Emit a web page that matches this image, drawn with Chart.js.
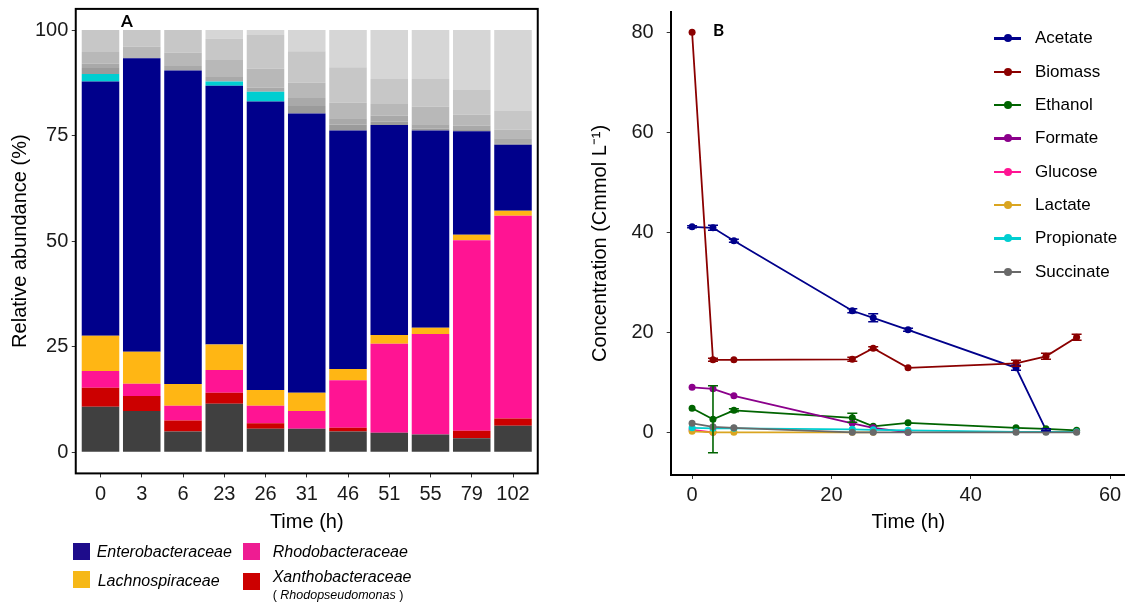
<!DOCTYPE html>
<html><head><meta charset="utf-8">
<script src="https://cdn.jsdelivr.net/npm/chart.js@4.4.1/dist/chart.umd.min.js"></script>
<style>
html,body{margin:0;padding:0;background:#fff;width:1125px;height:603px;overflow:hidden;position:relative;font-family:"Liberation Sans",Arial,sans-serif;color:#000;}
#ca{position:absolute;left:0;top:0;}
#cb{position:absolute;left:560px;top:0;}
.plab{position:absolute;font-family:Lato,"Liberation Sans",sans-serif;font-weight:bold;font-size:17px;line-height:17px;}
.sw{position:absolute;width:17px;height:17px;}
.lt{position:absolute;font-size:16px;line-height:20px;font-style:italic;white-space:nowrap;}
.st{position:absolute;font-size:12.5px;line-height:14px;white-space:nowrap;}
.lb{position:absolute;height:20px;width:140px;}
.lb .ln{position:absolute;left:0;top:9px;width:27px;height:2.5px;}
.lb .dt{position:absolute;left:9.5px;top:6.2px;width:8px;height:8px;border-radius:50%;}
.lb .tx{position:absolute;left:41px;top:0;font-size:17px;line-height:20px;white-space:nowrap;}
</style></head>
<body>
<canvas id="ca" width="560" height="603"></canvas>
<canvas id="cb" width="590" height="603"></canvas>
<div class="plab" style="left:121px;top:12px;">A</div>
<div class="plab" style="left:713px;top:20.5px;">B</div>
<div id="legA"></div>
<div id="legB"></div>
<script>
// ---------- Panel A data ----------
const timeLabels = ['0','3','6','23','26','31','46','51','55','79','102'];
const yTicksA = [0, 25, 50, 75, 100];
const other   = [10.8, 9.8, 4.9, 11.5, 5.6, 5.6, 4.9, 4.6, 4.2, 3.3, 6.3];
const xantho  = [4.5, 3.5, 2.6, 2.6, 1.3, 0, 0.9, 0, 0, 1.8, 1.7];
const rhodo   = [3.95, 2.95, 3.5, 5.4, 4.1, 4.2, 11.25, 21.1, 23.8, 45.1, 48.0];
const lachno  = [8.35, 7.55, 5.2, 6.0, 3.75, 4.3, 2.65, 2.1, 1.5, 1.3, 1.2];
const entero  = [60.2, 69.5, 74.2, 61.3, 68.35, 66.1, 56.5, 49.7, 46.7, 24.5, 15.6];
const cyanFam = [1.8, 0, 0, 1.0, 2.3, 0, 0, 0, 0, 0, 0];
const gray1   = [1.4, 0, 0, 0, 0, 1.8, 1.4, 0.8, 0.5, 0.3, 0.4];
const gray2   = [1.0, 0, 1.1, 1.1, 0.9, 1.9, 1.5, 1.4, 1.0, 1.0, 1.15];
const gray3   = [2.8, 2.75, 3.2, 4.0, 4.6, 3.7, 3.7, 2.8, 4.1, 2.7, 2.05];
const gray4   = [5.2, 3.95, 5.3, 5.1, 7.9, 7.4, 8.4, 5.9, 6.6, 5.8, 4.4];
const gray5   = [0, 0, 0, 2.0, 1.2, 5.0, 8.8, 11.6, 11.6, 14.2, 19.2];

// ---------- Panel B data ----------
const timesB = [0, 3, 6, 23, 26, 31, 46.5, 50.8, 55.2];
const xTicksB = [0, 20, 40, 60];
const yTicksB = [0, 20, 40, 60, 80];
const acetate    = [41.1, 40.9, 38.3, 24.3, 22.9, 20.5, 12.9, 0.5];
const acetateErr = [0.2, 0.5, 0.3, 0.4, 0.8, 0.3, 0.5, 0.2];
const biomass    = [80, 14.5, 14.5, 14.6, 16.8, 12.9, 13.8, 15.2, 19.0];
const biomassErr = [0, 0.3, 0, 0.4, 0.3, 0, 0.6, 0.6, 0.6];
const ethanol    = [4.8, 2.6, 4.4, 2.9, 1.2, 1.9, 0.9, 0.7, 0.4];
const ethanolErr = [0, 6.7, 0.3, 0.9, 0, 0, 0, 0, 0];
const formate    = [9.0, 8.7, 7.3, 1.8, 0.9, 0];
const glucose    = [0.5, 0];
const lactate    = [0.2, 0, 0, 0, 0];
const propionate = [0.9, 0.8, 0.8, 0.6, 0.5, 0.4, 0.1, 0.1, 0.1];
const succinate  = [1.8, 1.1, 0.9, 0, 0, 0, 0, 0, 0];

const FONT = 'Liberation Sans';
const noPad = s => { s.paddingTop = 0; s.paddingBottom = 0; s.paddingLeft = 0; s.paddingRight = 0; };

// ---------- Panel A chart ----------
const segA = [
  {label:'Other', data: other, color:'#404040'},
  {label:'Xanthobacteraceae', data: xantho, color:'#cc0000'},
  {label:'Rhodobacteraceae', data: rhodo, color:'#ff1493'},
  {label:'Lachnospiraceae', data: lachno, color:'#ffb614'},
  {label:'Enterobacteraceae', data: entero, color:'#00008b'},
  {label:'c1', data: cyanFam, color:'#00ced1'},
  {label:'g1', data: gray1, color:'#9b9b9b'},
  {label:'g2', data: gray2, color:'#a9a9a9'},
  {label:'g3', data: gray3, color:'#b8b8b8'},
  {label:'g4', data: gray4, color:'#c7c7c7'},
  {label:'g5', data: gray5, color:'#d6d6d6'}
];
const frameA = {id:'frameA', afterDraw(c){const a=c.chartArea,ctx=c.ctx;ctx.save();ctx.strokeStyle='#000';ctx.lineWidth=2;ctx.strokeRect(a.left,a.top,a.right-a.left,a.bottom-a.top);ctx.restore();}};
new Chart(document.getElementById('ca'), {
  type:'bar',
  data:{datasets: segA.map(s=>({label:s.label, data:s.data.map((v,i)=>({x:i,y:v})), backgroundColor:s.color, borderWidth:0, barPercentage:0.91, categoryPercentage:1}))},
  options:{
    responsive:false, animation:false, events:[],
    layout:{padding:{left:0,right:22.25,top:8.9,bottom:0}},
    plugins:{legend:{display:false}, tooltip:{enabled:false}},
    scales:{
      x:{type:'linear', stacked:true, min:-0.6, max:10.6, offset:false,
        afterBuildTicks:s=>{s.ticks=timeLabels.map((_,i)=>({value:i}));},
        afterFit:s=>{s.height=129.6; noPad(s);},
        ticks:{callback:v=>timeLabels[v], autoSkip:false, maxRotation:0, color:'#1a1a1a', font:{family:FONT,size:20}, padding:5},
        grid:{offset:false, drawOnChartArea:false, drawTicks:true, tickLength:4, tickColor:'#333', lineWidth:1},
        border:{display:false},
        title:{display:true, text:'Time (h)', color:'#000', font:{family:FONT,size:20}, padding:{top:0,bottom:68.2}}
      },
      y:{stacked:true, min:-5, max:105,
        afterBuildTicks:s=>{s.ticks=yTicksA.map(v=>({value:v}));},
        afterFit:s=>{s.width=75.75; noPad(s);},
        ticks:{color:'#1a1a1a', font:{family:FONT,size:20}, padding:3.5},
        grid:{drawOnChartArea:false, drawTicks:true, tickLength:4, tickColor:'#333', lineWidth:1},
        border:{display:false},
        title:{display:true, text:'Relative abundance (%)', color:'#000', font:{family:FONT,size:20}, padding:{top:8,bottom:0}}
      }
    }
  },
  plugins:[frameA]
});

// ---------- Panel B chart ----------
const seriesB = [
  {name:'Acetate', vals:acetate, err:acetateErr, color:'#00008b'},
  {name:'Biomass', vals:biomass, err:biomassErr, color:'#8b0000'},
  {name:'Ethanol', vals:ethanol, err:ethanolErr, color:'#006400'},
  {name:'Formate', vals:formate, err:null, color:'#8b008b'},
  {name:'Glucose', vals:glucose, err:null, color:'#ff1493'},
  {name:'Lactate', vals:lactate, err:null, color:'#daa520'},
  {name:'Propionate', vals:propionate, err:null, color:'#00ced1'},
  {name:'Succinate', vals:succinate, err:null, color:'#696969'}
];
const errPlugin = {id:'errB', afterDatasetsDraw(c){
  const ctx=c.ctx, xs=c.scales.x, ys=c.scales.y;
  ctx.save();
  seriesB.forEach(s=>{
    if(!s.err) return;
    ctx.strokeStyle=s.color; ctx.lineWidth=1.6;
    s.err.forEach((e,j)=>{
      if(!e || j>=s.vals.length) return;
      const px=xs.getPixelForValue(timesB[j]);
      const y1=ys.getPixelForValue(s.vals[j]-e), y2=ys.getPixelForValue(s.vals[j]+e);
      ctx.beginPath();
      ctx.moveTo(px,y1);ctx.lineTo(px,y2);
      ctx.moveTo(px-5,y1);ctx.lineTo(px+5,y1);
      ctx.moveTo(px-5,y2);ctx.lineTo(px+5,y2);
      ctx.stroke();
    });
  });
  ctx.restore();
}};
new Chart(document.getElementById('cb'), {
  type:'line',
  data:{datasets: seriesB.map((s,i)=>({label:s.name, data:s.vals.map((v,j)=>({x:timesB[j],y:v})), borderColor:s.color, backgroundColor:s.color, pointRadius:3.5, pointBorderWidth:0, borderWidth:1.8, tension:0, order:seriesB.length-i}))},
  options:{
    responsive:false, animation:false, events:[],
    layout:{padding:{left:0,right:0,top:11.7,bottom:0}},
    plugins:{legend:{display:false}, tooltip:{enabled:false}},
    scales:{
      x:{type:'linear', min:-3.07, max:65.16,
        afterBuildTicks:s=>{s.ticks=xTicksB.map(v=>({value:v}));},
        afterFit:s=>{s.height=128; noPad(s);},
        ticks:{color:'#1a1a1a', font:{family:FONT,size:20}, padding:4, maxRotation:0},
        grid:{drawOnChartArea:false, drawTicks:true, tickLength:4, tickColor:'#333', lineWidth:1},
        border:{display:true, color:'#000', width:2},
        title:{display:true, text:'Time (h)', color:'#000', font:{family:FONT,size:20}, padding:{top:0,bottom:68.2}}
      },
      y:{min:-8.54, max:84.12,
        afterBuildTicks:s=>{s.ticks=yTicksB.map(v=>({value:v}));},
        afterFit:s=>{s.width=110.7; noPad(s);},
        ticks:{color:'#1a1a1a', font:{family:FONT,size:20}, padding:13},
        grid:{drawOnChartArea:false, drawTicks:true, tickLength:4, tickColor:'#333', lineWidth:1},
        border:{display:true, color:'#000', width:2},
        title:{display:true, text:'Concentration (Cmmol L\u207B\u00B9)', color:'#000', font:{family:FONT,size:20}, padding:{top:28,bottom:0}}
      }
    }
  },
  plugins:[errPlugin]
});

// ---------- Legends ----------
const legA = [
  {name:'Enterobacteraceae', color:'#1e0c8b', sx:72.7, sy:542.7, tx:96.7, ty:551.7},
  {name:'Rhodobacteraceae', color:'#ee1c92', sx:242.7, sy:542.7, tx:272.7, ty:551.7},
  {name:'Lachnospiraceae', color:'#f6b817', sx:72.7, sy:571, tx:97.7, ty:580.7},
  {name:'Xanthobacteraceae', color:'#cc0000', sx:242.7, sy:573, tx:272.7, ty:577.3}
];
let h='';
legA.forEach(l=>{
  h+=`<div class="sw" style="left:${l.sx}px;top:${l.sy}px;background:${l.color}"></div>`;
  h+=`<div class="lt" style="left:${l.tx}px;top:${l.ty-10}px">${l.name}</div>`;
});
h+=`<div class="st" style="left:272.7px;top:588px">( <i>Rhodopseudomonas</i> )</div>`;
document.getElementById('legA').innerHTML=h;
let hb='';
seriesB.forEach((s,k)=>{
  const cy=38.3+33.33*k;
  hb+=`<div class="lb" style="left:994px;top:${cy-10}px"><span class="ln" style="background:${s.color}"></span><span class="dt" style="background:${s.color}"></span><span class="tx">${s.name}</span></div>`;
});
document.getElementById('legB').innerHTML=hb;
</script>
</body></html>
